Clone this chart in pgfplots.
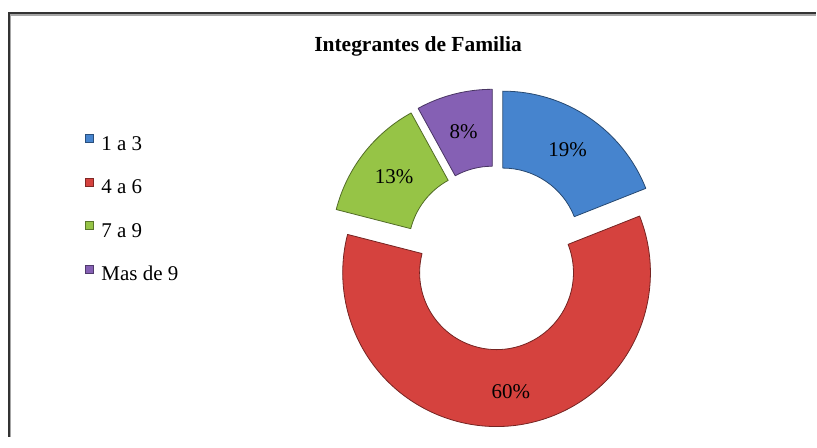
\documentclass[border=0pt]{standalone}
\usepackage{pgfplots}
\pgfplotsset{compat=1.18}
\usepackage{fontspec}
\setmainfont{Liberation Serif}
\definecolor{cA}{RGB}{70,132,206}
\definecolor{cB}{RGB}{213,66,62}
\definecolor{cC}{RGB}{150,196,70}
\definecolor{cD}{RGB}{133,96,180}
\begin{document}
\begin{tikzpicture}
\begin{axis}[width=817bp,height=437bp,scale only axis,
  xmin=0,xmax=817,ymin=0,ymax=437,axis lines=none,ticks=none,clip=false,
  legend style={at={(axis cs:85,302.5)},anchor=north west,draw=none,fill=none,
    inner sep=0pt,outer sep=0pt,
    font=\rmfamily\fontsize{21bp}{25bp}\selectfont,row sep=23.5bp,column sep=0pt,
    nodes={inner sep=0pt,outer sep=0pt,text height=14bp,text depth=4bp}},
  legend cell align=left,
  legend image code/.code={\path[#1] (0bp,2.8bp) rectangle (8bp,10.8bp); \path (16bp,0bp);},
]
\addlegendimage{fill=cA,draw=cA!60!black,line width=0.5bp}
\addlegendimage{fill=cB,draw=cB!60!black,line width=0.5bp}
\addlegendimage{fill=cC,draw=cC!60!black,line width=0.5bp}
\addlegendimage{fill=cD,draw=cD!60!black,line width=0.5bp}
\legend{1 a 3, 4 a 6, 7 a 9, Mas de 9}
% fixed picture extent
\path (axis cs:0,0) rectangle (axis cs:817,437);
% frame
\draw[black!80, line width=1.7bp] (axis cs:9.2,0) -- (axis cs:9.2,423.7) -- (axis cs:817,423.7);
\draw[black!35, line width=1.2bp] (axis cs:10.9,0) -- (axis cs:10.9,422) -- (axis cs:817,422);
% title
\node[font=\fontsize{21.5bp}{25bp}\selectfont\bfseries, anchor=base] at (axis cs:418.5,385.3) {Integrantes de Familia};
% donut: start cumulative / value / explode / colour / label shift
\pgfplotsextra{
\foreach \s/\v/\e/\c/\dx/\dy in {0/19/13/cA/0/0, 19/60/17/cB/7/-4, 79/13/13/cC/0/0, 92/8/13/cD/0/0}{
  \pgfmathsetmacro\aS{90-3.6*\s}
  \pgfmathsetmacro\aE{90-3.6*(\s+\v)}
  \pgfmathsetmacro\aM{(\aS+\aE)/2}
  \pgfmathsetmacro\cx{496+\e*cos(\aM)}
  \pgfmathsetmacro\cy{181+\e*sin(\aM)}
  \pgfmathsetmacro\xo{\cx+154*cos(\aS)}
  \pgfmathsetmacro\yo{\cy+154*sin(\aS)}
  \pgfmathsetmacro\xi{\cx+77*cos(\aE)}
  \pgfmathsetmacro\yi{\cy+77*sin(\aE)}
  \pgfmathsetmacro\xl{\cx+115.5*cos(\aM)+\dx}
  \pgfmathsetmacro\yl{\cy+115.5*sin(\aM)+\dy}
  \filldraw[fill=\c, draw=\c!55!black, line width=0.8bp, line join=round]
    (axis cs:\xo,\yo) arc[start angle=\aS, end angle=\aE, radius=154bp]
    -- (axis cs:\xi,\yi) arc[start angle=\aE, end angle=\aS, radius=77bp] -- cycle;
  \node[font=\fontsize{21bp}{25bp}\selectfont] at (axis cs:\xl,\yl) {\v\%};
}
}
\end{axis}
\end{tikzpicture}
\end{document}
